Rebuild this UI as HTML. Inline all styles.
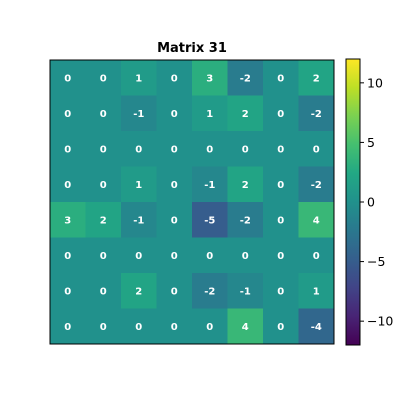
<!DOCTYPE html>
<html><head><meta charset="utf-8">
<style>
body{margin:0;background:#fff;font-family:"Liberation Sans","DejaVu Sans",sans-serif;}
svg text{font-family:"DejaVu Sans","Liberation Sans",sans-serif;}
</style></head>
<body>
<svg id="chart" width="400" height="400" viewBox="0 0 400 400">
<defs>
<linearGradient id="vir" x1="0" y1="1" x2="0" y2="0">
<stop offset="0" stop-color="#440154"/><stop offset="0.1" stop-color="#482475"/>
<stop offset="0.2" stop-color="#414487"/><stop offset="0.3" stop-color="#355f8d"/>
<stop offset="0.4" stop-color="#2a788e"/><stop offset="0.5" stop-color="#21918c"/>
<stop offset="0.6" stop-color="#22a884"/><stop offset="0.7" stop-color="#44bf70"/>
<stop offset="0.8" stop-color="#7ad151"/><stop offset="0.9" stop-color="#bddf26"/>
<stop offset="1" stop-color="#fde725"/>
</linearGradient>
</defs>
<text x="192" y="52" text-anchor="middle" font-size="13" font-weight="bold">Matrix 31</text>
<g id="cells"></g>
<rect x="50" y="60" width="284" height="284" fill="none" stroke="#000" stroke-width="1"/>
<rect x="346" y="59" width="14" height="286" fill="url(#vir)" stroke="#000" stroke-width="1"/>
<g id="cbticks"></g>
</svg>
<script>
const matrix = [
 [0,0,1,0,3,-2,0,2],
 [0,0,-1,0,1,2,0,-2],
 [0,0,0,0,0,0,0,0],
 [0,0,1,0,-1,2,0,-2],
 [3,2,-1,0,-5,-2,0,4],
 [0,0,0,0,0,0,0,0],
 [0,0,2,0,-2,-1,0,1],
 [0,0,0,0,0,4,0,-4]
];
const cbTicks = [-10,-5,0,5,10];
const vmin = -12, vmax = 12;
const stops = ["#440154","#482475","#414487","#355f8d","#2a788e","#21918c","#22a884","#44bf70","#7ad151","#bddf26","#fde725"];
function hex(h){return [1,3,5].map(i=>parseInt(h.substr(i,2),16));}
function viridis(t){
  t=Math.max(0,Math.min(1,t));const p=t*10,i=Math.min(9,Math.floor(p)),f=p-i;
  const a=hex(stops[i]),b=hex(stops[i+1]);
  return "rgb("+a.map((v,k)=>Math.round(v+(b[k]-v)*f)).join(",")+")";
}
const x0=50,y0=60,size=284,n=matrix.length,cw=size/n;
const ns="http://www.w3.org/2000/svg";
const g=document.getElementById("cells");
matrix.forEach((row,r)=>row.forEach((v,c)=>{
  const rect=document.createElementNS(ns,"rect");
  rect.setAttribute("x",x0+c*cw);rect.setAttribute("y",y0+r*cw);
  rect.setAttribute("width",cw+0.5);rect.setAttribute("height",cw+0.5);
  rect.setAttribute("fill",viridis((v-vmin)/(vmax-vmin)));
  
  
  g.appendChild(rect);
  const t=document.createElementNS(ns,"text");
  t.setAttribute("x",x0+c*cw+cw/2);t.setAttribute("y",y0+r*cw+cw/2+3.5);
  t.setAttribute("text-anchor","middle");t.setAttribute("font-size","10");
  t.setAttribute("font-weight","bold");t.setAttribute("fill","#fff");
  t.textContent=v;
  
  
  g.appendChild(t);
}));
const cb=document.getElementById("cbticks");
const cbTop=59,cbH=286;
function cy(v){return cbTop+cbH*(vmax-v)/(vmax-vmin);}
cbTicks.forEach(v=>{
  const y=cy(v);
  const l=document.createElementNS(ns,"line");
  l.setAttribute("x1",360);l.setAttribute("x2",364);l.setAttribute("y1",y);l.setAttribute("y2",y);
  l.setAttribute("stroke","#000");
  
  
  cb.appendChild(l);
  const t=document.createElementNS(ns,"text");
  t.setAttribute("x",367);t.setAttribute("y",y+4.5);t.setAttribute("font-size","12.5");
  t.textContent=v<0?"\u2212"+(-v):v;
  
  
  cb.appendChild(t);
});
</script>
</body></html>
